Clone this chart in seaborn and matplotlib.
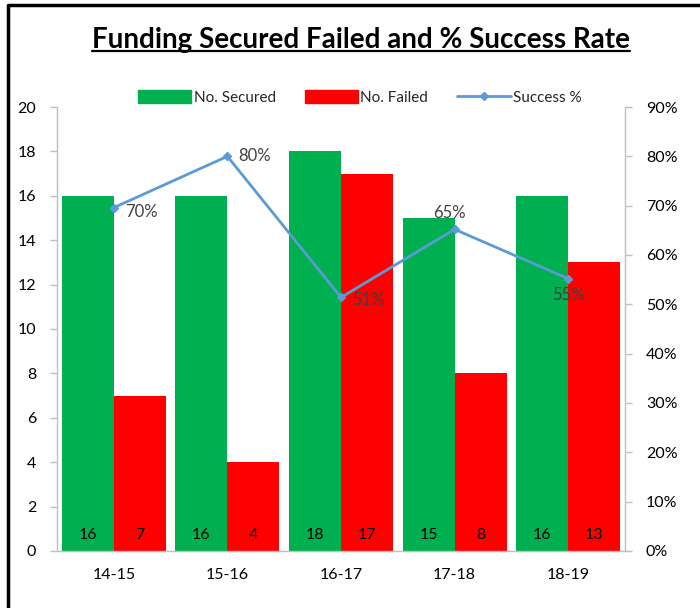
import numpy as np
import pandas as pd
import matplotlib
matplotlib.use("Agg")
import matplotlib.pyplot as plt
import seaborn as sns
from matplotlib.lines import Line2D
from matplotlib.patches import Patch
from matplotlib.ticker import PercentFormatter

years = ["14-15", "15-16", "16-17", "17-18", "18-19"]
secured = [16, 16, 18, 15, 16]
failed = [7, 4, 17, 8, 13]
success_pct = [69.6, 80.0, 51.4, 65.2, 55.2]
pct_labels = ["70%", "80%", "51%", "65%", "55%"]

GREEN = "#00B050"
RED = "#FF0000"
BLUE = "#5B9BD5"
GREY = "#BFBFBF"
TEXT = "#404040"

sns.set_theme(style="white")
plt.rcParams["font.family"] = ["Lato", "DejaVu Sans"]

df = pd.DataFrame({
    "year": years * 2,
    "count": secured + failed,
    "kind": ["No. Secured"] * 5 + ["No. Failed"] * 5,
})

fig = plt.figure(figsize=(7, 6.08), dpi=100)
ax = fig.add_axes([0.0814, 0.0938, 0.8115, 0.7302])

sns.barplot(data=df, x="year", y="count", hue="kind", order=years,
            hue_order=["No. Secured", "No. Failed"],
            palette=[GREEN, RED], width=0.915, saturation=1,
            linewidth=0, ax=ax, legend=False)

# value labels at the foot of each bar
for p in ax.patches:
    h = p.get_height()
    if h > 0:
        ax.text(p.get_x() + p.get_width() / 2, 0.7, f"{int(h)}",
                ha="center", va="center", fontsize=11.5, color="black")

ax.set_ylim(0, 20)
ax.set_yticks(np.arange(0, 21, 2))
ax.set_xlim(-0.5, 4.5)
ax.set_xlabel("")
ax.set_ylabel("")
ax.set_xticks(range(5))
ax.set_xticklabels(years)
ax.set_xticks(np.arange(-0.5, 5, 1), minor=True)
ax.tick_params(axis="x", which="major", length=0, pad=12, labelsize=11.5, labelcolor="black")
ax.tick_params(axis="x", which="minor", length=5, color=GREY, width=1, direction="out")
ax.tick_params(axis="y", length=5, color=GREY, width=1, direction="out", left=True,
               labelsize=11.5, labelcolor="black", pad=10)
for side in ["top", "right"]:
    ax.spines[side].set_visible(False)
for side in ["left", "bottom"]:
    ax.spines[side].set_color(GREY)
    ax.spines[side].set_linewidth(1)

ax2 = ax.twinx()
ax2.plot(range(5), success_pct, color=BLUE, lw=2, marker="D", markersize=4.5,
         zorder=5)
ax2.set_ylim(0, 90)
ax2.set_yticks(np.arange(0, 91, 10))
ax2.yaxis.set_major_formatter(PercentFormatter(decimals=0))
ax2.tick_params(axis="y", length=5, color=GREY, width=1, direction="out", right=True,
                labelsize=11.5, labelcolor="black", pad=10)
for side in ["top", "left", "bottom"]:
    ax2.spines[side].set_visible(False)
ax2.spines["right"].set_color(GREY)
ax2.spines["right"].set_linewidth(1)
ax2.grid(False)
ax.grid(False)

offsets = [(8, -3, "left", "center"), (8, 0, "left", "center"),
           (8, -2, "left", "center"), (-4, 6, "center", "bottom"),
           (0, -6, "center", "top")]
for i, (dx, dy, ha, va) in enumerate(offsets):
    ax2.annotate(pct_labels[i], (i, success_pct[i]), xytext=(dx, dy),
                 textcoords="offset points", ha=ha, va=va, fontsize=12,
                 color=TEXT)

handles = [Patch(color=GREEN, label="No. Secured"),
           Patch(color=RED, label="No. Failed"),
           Line2D([], [], color=BLUE, lw=2, marker="D", markersize=4, label="Success %")]
fig.legend(handles=handles, loc="center", bbox_to_anchor=(0.514, 0.84), ncol=3,
           frameon=False, fontsize=11, handlelength=3.5, handleheight=0.9,
           columnspacing=1.9, handletextpad=0.15)

title = fig.text(0.515, 0.935, "Funding Secured Failed and % Success Rate",
                 ha="center", va="center", fontsize=20, fontweight="bold",
                 color="black")

# underline under the title
fig.canvas.draw()
bb = title.get_window_extent().transformed(fig.transFigure.inverted())
fig.add_artist(Line2D([bb.x0, bb.x1], [bb.y0 + 0.002, bb.y0 + 0.002],
                      color="black", lw=1.6, transform=fig.transFigure))

# outer frame (left and top edges visible)
fig.add_artist(Line2D([0.0121, 0.0121, 1.01], [-0.01, 0.9918, 0.9918],
                      color="black", lw=2.5, transform=fig.transFigure))

fig.savefig("out.png", dpi=100, facecolor="white")
